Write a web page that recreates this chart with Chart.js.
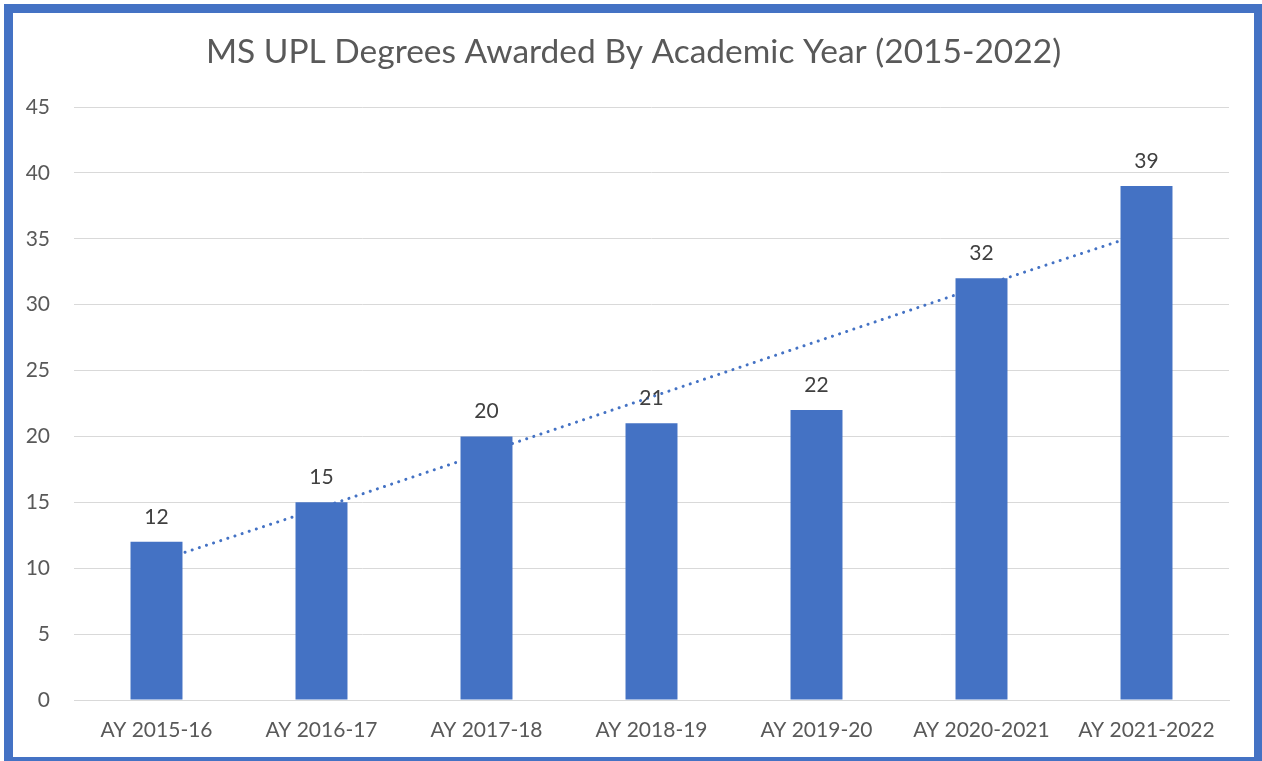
<!DOCTYPE html>
<html>
<head>
<meta charset="utf-8">
<script src="https://cdn.jsdelivr.net/npm/chart.js@4"></script>
<style>
    body { margin: 0; background: #fff; }
    #frame {
        position: absolute;
        left: 4px;
        top: 4px;
        width: 1259px;
        height: 762px;
        box-sizing: border-box;
        border: 9px solid #4472C4;
        background: #fff;
    }
    #chart { display: block; }
</style>
</head>
<body>
<div id="frame"><canvas id="chart" width="1241" height="744"></canvas></div>
<script>
// Data
const years = ['AY 2015-16', 'AY 2016-17', 'AY 2017-18', 'AY 2018-19', 'AY 2019-20', 'AY 2020-2021', 'AY 2021-2022'];
const degrees = [12, 15, 20, 21, 22, 32, 39];
// dotted linear trend line
const trend = [10.5, 14.6, 18.8, 23.0, 27.2, 31.4, 35.5];

const FONT = 'Lato, "Open Sans", sans-serif';

// draws the value above each bar
const barLabels = {
    id: 'barLabels',
    afterDatasetsDraw(chart) {
        const ctx = chart.ctx;
        const meta = chart.getDatasetMeta(0);
        ctx.save();
        ctx.font = '21px ' + FONT;
        ctx.fillStyle = '#404040';
        ctx.textAlign = 'center';
        ctx.textBaseline = 'middle';
        meta.data.forEach((bar, i) => {
            ctx.fillText(String(degrees[i]), bar.x, bar.y - 25);
        });
        ctx.restore();
    }
};

new Chart(document.getElementById('chart').getContext('2d'), {
    type: 'bar',
    data: {
        labels: years,
        datasets: [{
            type: 'bar',
            data: degrees,
            backgroundColor: '#4472C4',
            categoryPercentage: 1,
            barPercentage: 0.315,
            order: 1
        }, {
            type: 'line',
            data: trend,
            borderColor: '#4472C4',
            borderWidth: 3,
            borderDash: [0.1, 7.4],
            borderCapStyle: 'round',
            pointRadius: 0,
            tension: 0,
            fill: false,
            order: 2
        }]
    },
    options: {
        responsive: false,
        animation: false,
        layout: { padding: 0 },
        plugins: {
            legend: { display: false },
            tooltip: { enabled: false },
            title: {
                display: true,
                text: 'MS UPL Degrees Awarded By Academic Year (2015-2022)',
                color: '#595959',
                font: { family: FONT, size: 33.5, weight: 'normal' },
                padding: { top: 19.5, bottom: 34.3 }
            }
        },
        scales: {
            x: {
                grid: { display: false, drawTicks: false },
                border: { display: true, color: '#D9D9D9', width: 1 },
                ticks: {
                    color: '#595959',
                    font: { family: FONT, size: 21 },
                    padding: 18,
                    maxRotation: 0
                },
                afterFit(scale) { scale.height = 57; }
            },
            y: {
                min: 0,
                max: 45,
                grid: { color: '#D9D9D9', lineWidth: 1, drawTicks: false },
                border: { display: false },
                ticks: {
                    stepSize: 5,
                    color: '#595959',
                    font: { family: FONT, size: 21 },
                    padding: 24
                },
                afterFit(scale) { scale.width = 61; }
            },
            // empty right-hand axis, only keeps space at the right of the plot
            yRight: {
                position: 'right',
                min: 0,
                max: 45,
                grid: { display: false, drawTicks: false },
                border: { display: false },
                ticks: { display: false },
                afterFit(scale) { scale.width = 25; }
            }
        }
    },
    plugins: [barLabels]
});
</script>
</body>
</html>
